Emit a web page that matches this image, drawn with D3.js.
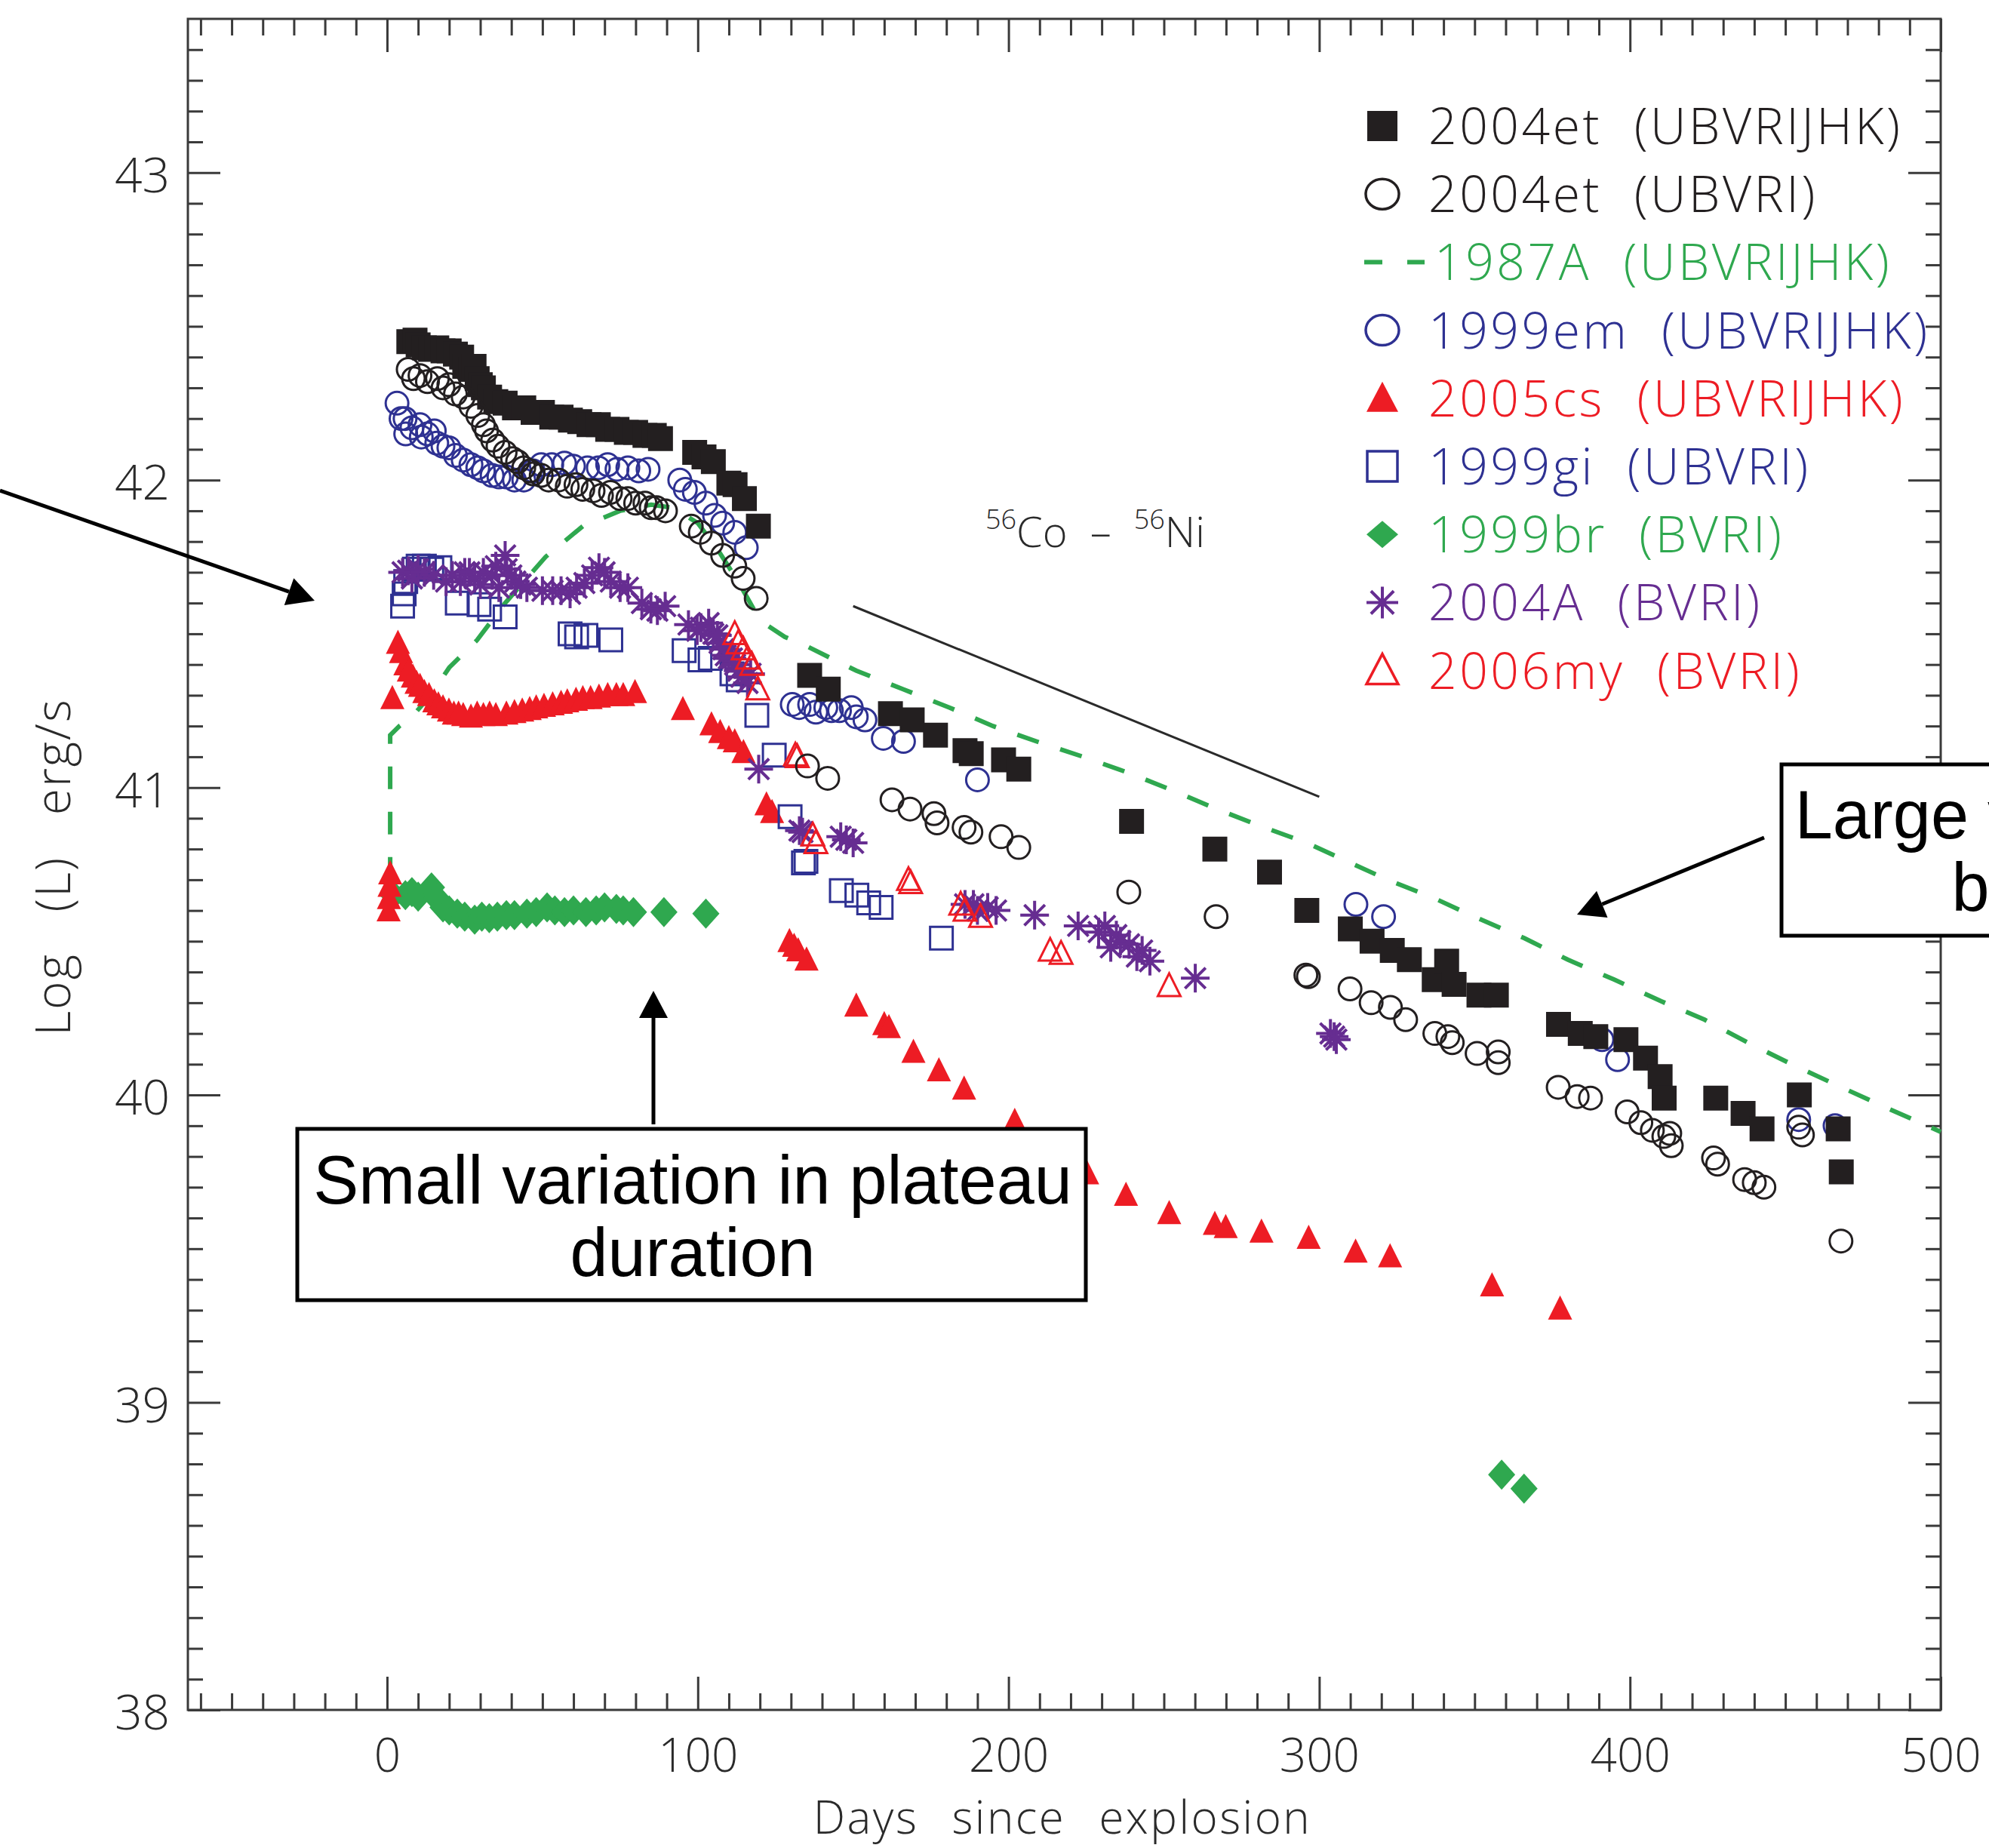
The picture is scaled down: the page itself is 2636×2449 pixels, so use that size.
<!DOCTYPE html>
<html>
<head>
<meta charset="utf-8">
<title>Bolometric light curves of type II-P supernovae</title>
<script src="https://d3js.org/d3.v7.min.js"></script>
<style>
  body { margin: 0; background: #fff; }
  svg { display: block; }
  .axis path { display: none; }
  .axis line { stroke: #3a3a3a; stroke-width: 3; }
  .axis text, .lbl { font-family: "Open Sans", "DejaVu Sans", sans-serif; font-weight: 300; fill: #2a2a2a; }
  .legend text { font-family: "Open Sans", "DejaVu Sans", sans-serif; font-weight: 300; }
  .note { font-family: "Liberation Sans", Arial, sans-serif; fill: #000; }
</style>
</head>
<body>
<svg id="chart"></svg>
<script>
// ---- data: [days since explosion, log L (erg/s)] ----
var et04Filled = [[7,42.45],[9,42.455],[10,42.44],[12,42.43],[14,42.425],[16,42.43],[18,42.42],[20,42.42],[22,42.41],
  [24,42.40],[25,42.37],[27,42.36],[28,42.37],[29,42.33],[30,42.31],[31,42.30],[33,42.27],[35,42.255],[38,42.25],
  [41,42.235],[44,42.235],[47,42.22],[50,42.22],[53,42.205],[56,42.205],[59,42.195],[62,42.19],[65,42.18],[68,42.18],
  [71,42.165],[74,42.165],[77,42.155],[80,42.155],[83,42.145],[86,42.145],[88,42.135],
  [99,42.09],[102,42.075],[105,42.06],[110,41.99],[112,41.985],[115,41.94],[119.5,41.85],
  [136,41.365],[142,41.32],[162,41.24],[169,41.22],[176.5,41.17],[186,41.12],[188,41.11],[198.4,41.09],[203.3,41.06],
  [239.6,40.89],[266.4,40.80],[284,40.725],[296,40.60],[310,40.54],[317,40.50],[323.5,40.47],[329,40.44],[337,40.375],
  [341,40.435],[343.4,40.36],[351.4,40.325],[357,40.325],[377,40.23],[384,40.20],[389,40.19],[398.7,40.18],[405,40.12],
  [409.7,40.06],[411,39.99],[427.6,39.99],[436.4,39.94],[442.5,39.89],[454.5,40.00],[467,39.89],[468,39.75]];

var et04Open = [[6.8,42.36],[8.5,42.33],[10.6,42.34],[13,42.32],[16.2,42.33],[18,42.30],[19.9,42.31],[22,42.28],
  [24.5,42.27],[27,42.24],[29.2,42.21],[31,42.18],[32,42.16],[34,42.13],[35.7,42.11],[38,42.09],[40.4,42.07],[42,42.06],
  [44,42.04],[46,42.03],[47,42.02],[49.6,42.015],[52,42.0],[55.2,42.0],[58,41.98],[60.8,41.985],[63,41.97],[66.3,41.965],
  [69,41.95],[71.9,41.96],[75,41.94],[77.5,41.94],[80,41.925],[83,41.925],[85,41.91],[86.7,41.91],[89.6,41.90],
  [97.9,41.85],[100.8,41.83],[104.4,41.795],[108,41.755],[111.9,41.72],[114.6,41.68],[118.8,41.615],
  [135.3,41.07],[141.8,41.03],[162.5,40.96],[168.3,40.93],[176,40.915],[177,40.885],[185.7,40.87],[187.9,40.855],
  [197.6,40.84],[203.3,40.805],[238.7,40.66],[266.8,40.58],[295.7,40.39],[296.5,40.385],[309.9,40.345],[316.7,40.30],
  [322.9,40.285],[327.8,40.245],[337.2,40.20],[341.4,40.19],[342.8,40.17],[350.8,40.135],[357.6,40.14],[357.6,40.105],
  [376.9,40.025],[383,39.995],[387.3,39.99],[399.1,39.945],[403.5,39.91],[407.2,39.885],[410.9,39.865],[413.3,39.835],
  [412.8,39.875],[426.9,39.795],[428.2,39.775],[436.9,39.725],[440,39.715],[443.1,39.70],[454.3,39.895],[455.5,39.87],
  [467.9,39.525]];

var sn87A = [[1,40.70],[1,40.95],[1,41.17],[4,41.2],[8,41.23],[14,41.3],[20,41.39],[29,41.48],[38,41.6],[51,41.75],
  [63,41.85],[75,41.9],[85,41.92],[92,41.91],[100,41.86],[106,41.78],[113,41.67],[118,41.58],[122,41.53],[128,41.49],
  [135,41.46],[151,41.38],[166,41.32],[181,41.26],[195,41.2],[209,41.15],[224,41.1],[238,41.05],[253,40.99],[267,40.93],
  [281,40.875],[296,40.82],[309,40.76],[322,40.7],[337,40.64],[351,40.575],[366,40.51],[380,40.44],[395,40.375],
  [410,40.305],[424,40.245],[438,40.17],[452,40.1],[467,40.03],[480,39.97],[500,39.88]];

var em99 = [[3.2,42.25],[4.5,42.2],[5.8,42.2],[6,42.15],[8,42.17],[10.6,42.18],[11,42.14],[13,42.15],[15.2,42.16],
  [16,42.12],[18,42.11],[19.9,42.105],[22,42.08],[24.5,42.065],[27,42.05],[29.2,42.04],[31,42.03],[33.8,42.015],
  [36,42.01],[38.4,42.01],[41,42.0],[44,42.0],[47,42.03],[49.6,42.05],[53,42.05],[57.1,42.055],[60,42.045],[64.5,42.04],
  [68,42.04],[71,42.05],[74,42.035],[77.5,42.04],[81,42.03],[84,42.035],
  [94.2,42.0],[96,41.97],[98.9,41.96],[102.6,41.925],[105.4,41.885],[108,41.86],[111.9,41.83],[115.6,41.78],
  [130.4,41.27],[132.6,41.26],[136,41.27],[138,41.245],[141.2,41.26],[143,41.25],[145.6,41.25],[149.4,41.26],[151,41.23],
  [153.8,41.22],[159.7,41.16],[166.2,41.15],[190,41.025],
  [311.8,40.62],[320.7,40.58],[391,40.18],[396,40.115],[454.3,39.92],[466,39.90]];

var cs05 = [[0.5,40.60],[0.6,40.64],[0.8,40.68],[1.0,40.72],[1.7,41.29],
  [3.5,41.47],[4.5,41.44],[5.9,41.40],[7,41.38],[8.3,41.36],[9.5,41.34],[10.6,41.33],[12,41.31],[13.5,41.30],[15.2,41.28],
  [16.5,41.27],[18,41.26],[19.9,41.25],[21.5,41.24],[23,41.24],[24.5,41.235],[27,41.23],[29,41.24],[31,41.235],[33,41.24],
  [35,41.235],[38.4,41.24],[41,41.245],[43.5,41.25],[45.9,41.255],[48,41.26],[50.5,41.265],[53.3,41.27],[56,41.275],
  [58,41.28],[60.8,41.285],[63,41.29],[65.5,41.29],[68.2,41.295],[71,41.30],[73.8,41.30],[76,41.30],[79.8,41.31],
  [95.2,41.255],[104.4,41.205],[107.2,41.18],[110,41.16],[111.9,41.15],[114.7,41.115],[122.1,40.945],[123.9,40.92],
  [129.5,40.50],[131,40.485],[132.3,40.47],[135,40.44],[151,40.29],[160,40.23],[161.5,40.22],[169.4,40.14],[177.6,40.08],
  [185.7,40.02],[202,39.915],[221.1,39.79],[225.3,39.745],[237.8,39.675],[251.7,39.615],[266.4,39.58],[269.9,39.57],
  [281.4,39.555],[296.6,39.535],[311.7,39.49],[322.8,39.475],[355.6,39.38],[377.5,39.305]];

var gi99 = [[5,41.59],[5.5,41.63],[6,41.67],[8.8,41.71],[10,41.72],[12,41.72],[14.4,41.71],[17,41.715],[22.6,41.60],
  [29.6,41.595],[33,41.58],[38,41.555],[58.9,41.50],[61,41.49],[64,41.495],[72,41.48],[95.6,41.445],[100.7,41.415],
  [104,41.42],[111,41.37],[113,41.35],[119,41.235],[124.6,41.105],[129.7,40.905],[134,40.755],[134.8,40.76],[146.2,40.665],
  [151.2,40.65],[155,40.625],[159,40.61],[178.4,40.51]];

var br99 = [[2,40.65],[5.9,40.65],[8,40.66],[10,40.645],[14.3,40.675],[16,40.64],[18,40.61],[20,40.6],[22.6,40.59],
  [25,40.58],[28.2,40.57],[30.5,40.58],[32.9,40.575],[35.5,40.58],[38.4,40.585],[41,40.585],[45,40.59],[48,40.595],
  [51.5,40.61],[54,40.6],[57.1,40.595],[60,40.6],[64,40.595],[67.3,40.6],[70,40.61],[73.8,40.605],[76,40.6],[79.3,40.595],
  [89.1,40.595],[102.6,40.59],[358.7,38.765],[365.9,38.72]];

var a04 = [[5,41.70],[6.8,41.705],[8,41.68],[10,41.71],[12,41.70],[15,41.69],[19,41.67],[21,41.69],[23.6,41.67],[25,41.70],
  [26.5,41.70],[28.2,41.68],[30,41.66],[31,41.70],[33.8,41.69],[35,41.72],[36,41.65],[38,41.755],[38.5,41.71],[40,41.69],
  [41.3,41.67],[43,41.66],[45,41.65],[50,41.64],[53.3,41.64],[56,41.64],[58.9,41.63],[61,41.65],[63.5,41.665],[66,41.69],
  [68.2,41.715],[70,41.70],[72,41.67],[75,41.65],[77.5,41.65],[82,41.60],[84.9,41.58],[87,41.575],[89.5,41.59],[97,41.53],
  [99.8,41.51],[101,41.52],[103.5,41.535],[105,41.50],[106.3,41.495],[107,41.47],[108.2,41.45],[109,41.43],[110,41.42],
  [111,41.42],[112,41.40],[113,41.38],[114,41.36],[116,41.34],[117,41.37],[119.6,41.06],[132.7,40.86],[133.7,40.855],
  [146,40.84],[147.8,40.83],[150,40.82],[186,40.62],[188.7,40.62],[190,40.60],[193.3,40.61],[196,40.60],[208.4,40.585],
  [222.4,40.55],[229,40.53],[231,40.55],[232.9,40.48],[234.7,40.52],[236,40.50],[238.8,40.49],[241.3,40.45],[243,40.47],
  [245.5,40.435],[260.1,40.38],[303.6,40.20],[304.8,40.19],[305.5,40.18]];

var my06 = [[111.9,41.50],[113,41.47],[114.6,41.45],[116,41.42],[117.4,41.40],[119.3,41.32],[131.4,41.105],[132,41.10],
  [137,40.845],[138,40.82],[167.8,40.70],[168.5,40.69],[184.6,40.62],[186,40.6],[191,40.58],[213.4,40.47],[216.9,40.46],
  [251.7,40.355]];

// 56Co decay slope guide
var coSlope = [[150,41.59],[300,40.97]];

var xMajor = [0, 100, 200, 300, 400, 500];
var yMajor = [38, 39, 40, 41, 42, 43];

var legendLabels = ["2004et (UBVRIJHK)", "2004et (UBVRI)", "1987A (UBVRIJHK)", "1999em (UBVRIJHK)",
  "2005cs (UBVRIJHK)", "1999gi (UBVRI)", "1999br (BVRI)", "2004A (BVRI)", "2006my (BVRI)"];

// ---- colours ----
var cBlack = "#231f20", cBlue = "#2e3192", cRed = "#ed1c24", cGreen = "#2fa84f", cPurple = "#662d91";

var W = 2636, H = 2449;
var frame = {left: 249, right: 2572, top: 25, bottom: 2266};

var svg = d3.select("#chart").attr("width", W).attr("height", H);
svg.append("rect").attr("width", W).attr("height", H).attr("fill", "#fff");

var x = d3.scaleLinear().domain([-64.1, 500]).range([frame.left, frame.right]);
var y = d3.scaleLinear().domain([38, 43.5]).range([frame.bottom, frame.top]);

var xMinor = d3.range(-60, 500, 10).filter(function(d) { return d % 100 !== 0; });
var yMinor = d3.range(381, 435).map(function(v) { return v / 10; }).filter(function(v) { return v % 1 !== 0; });

// ---- axes (ticks on all four sides, pointing inward) ----
var bx = svg.append("g").attr("class", "axis").attr("transform", "translate(0," + frame.bottom + ")")
  .call(d3.axisBottom(x).tickValues(xMajor).tickSize(-44).tickFormat(d3.format("d")));
bx.selectAll("text").attr("y", 82).attr("dy", 0).style("font-size", "62px");
svg.append("g").attr("class", "axis").attr("transform", "translate(0," + frame.bottom + ")")
  .call(d3.axisBottom(x).tickValues(xMinor).tickSize(-22).tickFormat(""));
svg.append("g").attr("class", "axis").attr("transform", "translate(0," + frame.top + ")")
  .call(d3.axisTop(x).tickValues(xMajor).tickSize(-44).tickFormat(""));
svg.append("g").attr("class", "axis").attr("transform", "translate(0," + frame.top + ")")
  .call(d3.axisTop(x).tickValues(xMinor).tickSize(-22).tickFormat(""));

var ly = svg.append("g").attr("class", "axis").attr("transform", "translate(" + frame.left + ",0)")
  .call(d3.axisLeft(y).tickValues(yMajor).tickSize(-43).tickPadding(24).tickFormat(d3.format("d")));
ly.selectAll("text").attr("dy", "0.4em").style("font-size", "64px");
svg.append("g").attr("class", "axis").attr("transform", "translate(" + frame.left + ",0)")
  .call(d3.axisLeft(y).tickValues(yMinor).tickSize(-20).tickFormat(""));
svg.append("g").attr("class", "axis").attr("transform", "translate(" + frame.right + ",0)")
  .call(d3.axisRight(y).tickValues(yMajor).tickSize(-43).tickFormat(""));
svg.append("g").attr("class", "axis").attr("transform", "translate(" + frame.right + ",0)")
  .call(d3.axisRight(y).tickValues(yMinor).tickSize(-20).tickFormat(""));

svg.append("rect")
  .attr("x", frame.left).attr("y", frame.top)
  .attr("width", frame.right - frame.left).attr("height", frame.bottom - frame.top)
  .attr("fill", "none").attr("stroke", "#3a3a3a").attr("stroke-width", 3);

// axis titles
svg.append("text").attr("class", "lbl")
  .attr("x", 1408).attr("y", 2430).attr("text-anchor", "middle")
  .style("font-size", "60px").style("word-spacing", "26px").style("letter-spacing", "2.5px")
  .text("Days since explosion");
svg.append("text").attr("class", "lbl")
  .attr("transform", "translate(93,1149) rotate(-90)").attr("text-anchor", "middle")
  .style("font-size", "64px").style("word-spacing", "36px").style("letter-spacing", "2px")
  .text("Log (L) erg/s");

// ---- marker shapes ----
function sqPath(s) { var h = s / 2; return "M" + (-h) + "," + (-h) + "H" + h + "V" + h + "H" + (-h) + "Z"; }
function triPath(w, h) { return "M0," + (-h * 0.55) + "L" + (w / 2) + "," + (h * 0.45) + "L" + (-w / 2) + "," + (h * 0.45) + "Z"; }
function diaPath(w, h) { return "M0," + (-h / 2) + "L" + (w / 2) + ",0L0," + (h / 2) + "L" + (-w / 2) + ",0Z"; }
function starPath(s) {
  var r = s / 2, d = r * 0.72;
  return "M" + (-r) + ",0H" + r + "M0," + (-r) + "V" + r +
    "M" + (-d) + "," + (-d) + "L" + d + "," + d + "M" + (-d) + "," + d + "L" + d + "," + (-d);
}
function place(d) { return "translate(" + x(d[0]) + "," + y(d[1]) + ")"; }

var plot = svg.append("g");

// 1987A dashed curve
plot.append("path").datum(sn87A)
  .attr("d", d3.line().x(function(d) { return x(d[0]); }).y(function(d) { return y(d[1]); }))
  .attr("fill", "none").attr("stroke", cGreen).attr("stroke-width", 6).attr("stroke-dasharray", "30,30");

// 56Co slope
plot.append("path").datum(coSlope)
  .attr("d", d3.line().x(function(d) { return x(d[0]); }).y(function(d) { return y(d[1]); }))
  .attr("fill", "none").attr("stroke", "#2a2a2a").attr("stroke-width", 3);

function drawPaths(data, path, fill, stroke, sw) {
  plot.append("g").selectAll("path").data(data).enter().append("path")
    .attr("transform", place).attr("d", path)
    .attr("fill", fill).attr("stroke", stroke).attr("stroke-width", sw);
}
function drawCircles(data, color) {
  plot.append("g").selectAll("circle").data(data).enter().append("circle")
    .attr("cx", function(d) { return x(d[0]); }).attr("cy", function(d) { return y(d[1]); })
    .attr("r", 15).attr("fill", "none").attr("stroke", color).attr("stroke-width", 3);
}

drawPaths(br99, diaPath(36, 40), cGreen, "none", 0);
drawPaths(cs05, triPath(32, 32), cRed, "none", 0);
drawPaths(gi99, sqPath(30), "none", cBlue, 3);
drawPaths(a04, starPath(38), "none", cPurple, 4);
drawPaths(my06, triPath(30, 30), "none", cRed, 3);
drawCircles(em99, cBlue);
drawPaths(et04Filled, sqPath(33), cBlack, "none", 0);
drawCircles(et04Open, cBlack);

// Co - Ni label
var coLbl = svg.append("text").attr("class", "lbl").attr("x", 1306).attr("y", 725).style("font-size", "56px");
coLbl.append("tspan").attr("dy", -24).style("font-size", "36px").text("56");
coLbl.append("tspan").attr("dy", 24).text("Co");
coLbl.append("tspan").attr("dx", 30).text("\u2013");
coLbl.append("tspan").attr("dx", 30).attr("dy", -24).style("font-size", "36px").text("56");
coLbl.append("tspan").attr("dy", 24).text("Ni");

// ---- legend ----
var legendColors = [cBlack, cBlack, cGreen, cBlue, cRed, cBlue, cGreen, cPurple, cRed];
var legend = svg.append("g").attr("class", "legend");
var symX = 1832, textX = 1893, row0 = 167, rowStep = 90.2;
legendLabels.forEach(function(lab, i) {
  var cy = row0 + i * rowStep, col = legendColors[i];
  var g = legend.append("g").attr("transform", "translate(" + symX + "," + cy + ")");
  if (i === 0) g.append("path").attr("d", sqPath(40)).attr("fill", col);
  if (i === 1 || i === 3) g.append("ellipse").attr("rx", 22).attr("ry", 20).attr("fill", "none").attr("stroke", col).attr("stroke-width", 3.5);
  if (i === 2) {
    g.append("line").attr("x1", -24).attr("x2", 0).attr("stroke", col).attr("stroke-width", 6);
    g.append("line").attr("x1", 33).attr("x2", 56).attr("stroke", col).attr("stroke-width", 6);
  }
  if (i === 4) g.append("path").attr("d", triPath(42, 40)).attr("fill", col);
  if (i === 5) g.append("path").attr("d", sqPath(40)).attr("fill", "none").attr("stroke", col).attr("stroke-width", 3.5);
  if (i === 6) g.append("path").attr("d", diaPath(42, 36)).attr("fill", col);
  if (i === 7) g.append("path").attr("d", starPath(42)).attr("fill", "none").attr("stroke", col).attr("stroke-width", 4);
  if (i === 8) g.append("path").attr("d", triPath(42, 40)).attr("fill", "none").attr("stroke", col).attr("stroke-width", 3.5);
  legend.append("text").attr("x", i === 2 ? textX + 8 : textX).attr("y", cy + 24)
    .attr("fill", col).style("font-size", "66px").style("word-spacing", "22px").style("letter-spacing", "3.5px")
    .text(lab);
});

// ---- annotation overlays ----
var notes = svg.append("g");
function arrow(x1, y1, x2, y2) {
  var dx = x2 - x1, dy = y2 - y1, len = Math.sqrt(dx * dx + dy * dy);
  var ux = dx / len, uy = dy / len, hl = 36, hw = 19;
  var bx2 = x2 - ux * hl, by2 = y2 - uy * hl;
  notes.append("line").attr("x1", x1).attr("y1", y1).attr("x2", bx2).attr("y2", by2)
    .attr("stroke", "#000").attr("stroke-width", 5);
  notes.append("path")
    .attr("d", "M" + x2 + "," + y2 + "L" + (bx2 - uy * hw) + "," + (by2 + ux * hw) + "L" + (bx2 + uy * hw) + "," + (by2 - ux * hw) + "Z")
    .attr("fill", "#000");
}
arrow(0, 650, 417, 796);
arrow(866, 1490, 866, 1313);
arrow(2338, 1110, 2090, 1212);

notes.append("rect").attr("x", 394).attr("y", 1496).attr("width", 1045).attr("height", 227)
  .attr("fill", "#fff").attr("stroke", "#000").attr("stroke-width", 5);
notes.append("text").attr("class", "note").attr("x", 918).attr("y", 1595).attr("text-anchor", "middle")
  .style("font-size", "90px").text("Small variation in plateau");
notes.append("text").attr("class", "note").attr("x", 918).attr("y", 1691).attr("text-anchor", "middle")
  .style("font-size", "90px").text("duration");

notes.append("rect").attr("x", 2361).attr("y", 1013).attr("width", 900).attr("height", 227)
  .attr("fill", "#fff").attr("stroke", "#000").attr("stroke-width", 5);
notes.append("text").attr("class", "note").attr("x", 2794).attr("y", 1111).attr("text-anchor", "middle")
  .style("font-size", "90px").text("Large variation in tail");
notes.append("text").attr("class", "note").attr("x", 2794).attr("y", 1207).attr("text-anchor", "middle")
  .style("font-size", "90px").text("brightness");
</script>
</body>
</html>
